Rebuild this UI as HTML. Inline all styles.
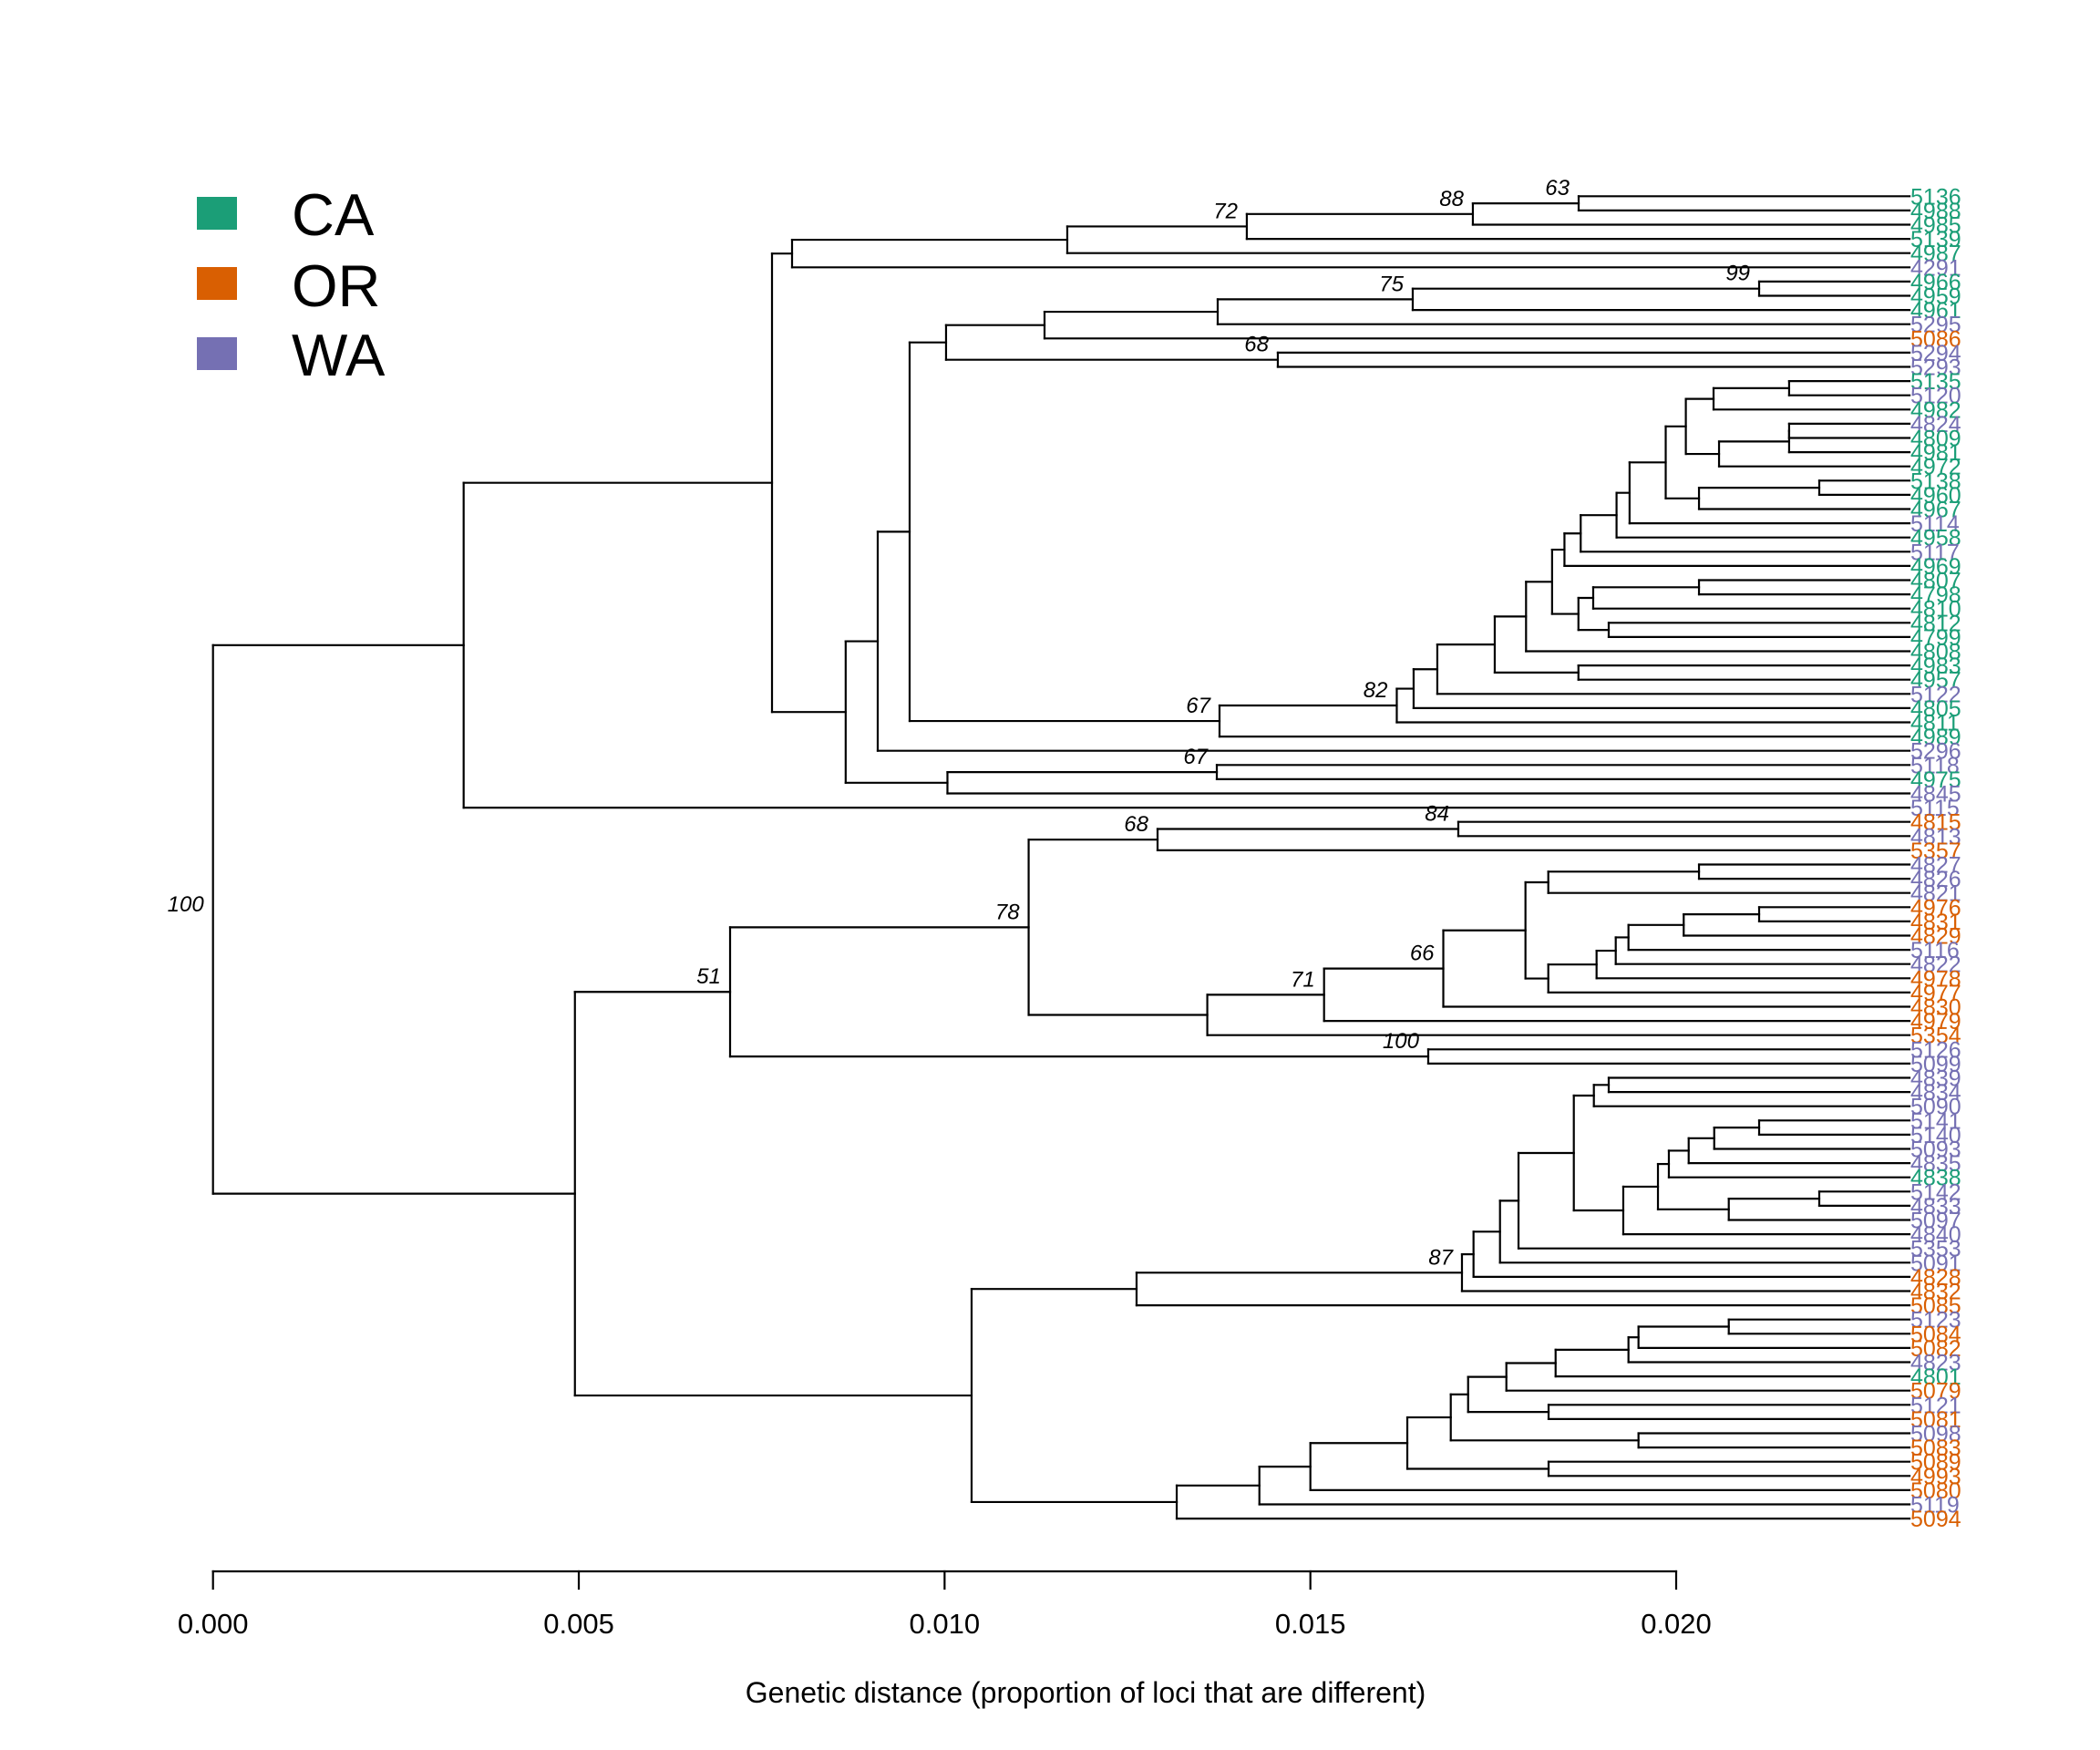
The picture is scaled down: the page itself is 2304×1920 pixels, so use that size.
<!DOCTYPE html>
<html>
<head>
<meta charset="utf-8">
<style>
html,body{margin:0;padding:0;background:#fff;}
svg{display:block;}
text{font-family:"Liberation Sans",Arial,sans-serif;}
</style>
</head>
<body>
<svg id="chart" xmlns="http://www.w3.org/2000/svg" width="2304" height="1920" viewBox="0 0 2304 1920">
  <rect width="2304" height="1920" fill="#fff"/>
  <g id="tree"></g>
  <g id="leaves"></g>
  <g id="boots"></g>
  <g id="axis"></g>
  <text x="1191" y="1868" font-size="32" text-anchor="middle">Genetic distance (proportion of loci that are different)</text>
  <g>
    <rect x="216" y="216" width="44" height="36" fill="#1B9E77"/>
    <text x="320" y="258" font-size="65">CA</text>
    <rect x="216" y="293" width="44" height="36" fill="#D95F02"/>
    <text x="320" y="336" font-size="65">OR</text>
    <rect x="216" y="370" width="44" height="36" fill="#7570B3"/>
    <text x="320" y="412" font-size="65">WA</text>
  </g>
</svg>
<script>
// ---- data ----
const leafNames = ["5136","4988","4985","5139","4987","4291","4966","4959","4961","5295","5086","5294","5293","5135","5120","4982","4824","4809","4981","4972","5138","4960","4967","5114","4958","5117","4969","4807","4798","4810","4812","4799","4808","4983","4957","5122","4805","4811","4989","5296","5118","4975","4845","5115","4815","4813","5357","4827","4826","4821","4976","4831","4829","5116","4822","4978","4977","4830","4979","5354","5126","5099","4839","4834","5090","5141","5140","5093","4835","4838","5142","4833","5097","4840","5353","5091","4828","4832","5085","5123","5084","5082","4823","4801","5079","5121","5081","5098","5083","5089","4993","5080","5119","5094"];
const leafRegions = "CCCCCWCCCWOWWCWCWCCCCCCWCWCCCCCCCCCWCCCWWCWWOWOWWWOOOWWOOOOOWWWWWWWWWCWWWWWWOOOWOOWCOWOWOOOOWO".split("");
const tipDistance = 0.02319;
const xTicks = [0.000, 0.005, 0.010, 0.015, 0.020];
const xTickLabels = ["0.000","0.005","0.010","0.015","0.020"];
// tree: [height, bootstrapLabel, children...]; leaves are indices into leafNames
const c63=[0.018667,'63',0,1], c88=[0.017221,'88',c63,2], c72=[0.014131,'72',c88,3];
const n1171=[0.011677,'',c72,4], A1a=[0.007915,'',n1171,5];
const c99=[0.021134,'99',6,7], c75=[0.016399,'75',c99,8], n1336=[0.013733,'',c75,9], n1146=[0.011366,'',n1336,10];
const c68a=[0.014555,'68',11,12], n1038=[0.010020,'',n1146,c68a];
const ta=[0.021544,'',13,14], tb=[0.020511,'',ta,15];
const tc=[0.021544,'',16,17], tc2=[0.021544,'',tc,18], td=[0.020586,'',tc2,19];
const te=[0.020132,'',tb,td];
const tf=[0.021956,'',20,21], tg=[0.020312,'',tf,22];
const th=[0.019857,'',te,tg], ti=[0.019363,'',th,23], tj=[0.019185,'',ti,24], tk=[0.018695,'',tj,25], tl=[0.018473,'',tk,26];
const tm=[0.020312,'',27,28], tn=[0.018866,'',tm,29], to=[0.019078,'',30,31], tp=[0.018664,'',tn,to];
const tq=[0.018304,'',tl,tp], tr=[0.017948,'',tq,32], ts=[0.018664,'',33,34], tt=[0.017520,'',tr,ts];
const tu=[0.016735,'',tt,35], tv=[0.016411,'',tu,36], c82=[0.016181,'82',tv,37], c67a=[0.013758,'67',c82,38];
const n679=[0.009522,'',n1038,c67a], n655=[0.009086,'',n679,39];
const c67b=[0.013721,'67',40,41], n707=[0.010039,'',c67b,42];
const A1b=[0.008648,'',n655,n707], A1=[0.007641,'',A1a,A1b], cA=[0.003426,'',A1,43];
const c84=[0.017022,'84',44,45], c68b=[0.012911,'68',c84,46];
const x1=[0.020312,'',47,48], x2=[0.018252,'',x1,49];
const y1=[0.021134,'',50,51], y2=[0.020103,'',y1,52], y3=[0.019348,'',y2,53], y4=[0.019174,'',y3,54], y5=[0.018912,'',y4,55], y6=[0.018252,'',y5,56];
const zz=[0.017940,'',x2,y6], c66=[0.016817,'66',zz,57], c71=[0.015187,'71',c66,58], ww=[0.013591,'',c71,59];
const c78=[0.011149,'78',c68b,ww], c100b=[0.016611,'100',60,61], c51=[0.007068,'51',c78,c100b];
const b1=[0.019078,'',62,63], b2=[0.018875,'',b1,64];
const b3=[0.021134,'',65,66], b4=[0.020520,'',b3,67], b5=[0.020171,'',b4,68], b6=[0.019900,'',b5,69];
const b7=[0.021956,'',70,71], b8=[0.020719,'',b7,72], b9=[0.019751,'',b6,b8], b10=[0.019277,'',b9,73];
const b11=[0.018601,'',b2,b10], b12=[0.017845,'',b11,74], b13=[0.017592,'',b12,75], b14=[0.017230,'',b13,76];
const c87=[0.017072,'87',b14,77], b15=[0.012624,'',c87,78];
const e1=[0.020719,'',79,80], e2=[0.019485,'',e1,81], e3=[0.019348,'',e2,82], e4=[0.018352,'',e3,83], e5=[0.017679,'',e4,84];
const e6=[0.018256,'',85,86], e7=[0.017156,'',e5,e6], e8=[0.019485,'',87,88], e9=[0.016919,'',e7,e8];
const e10=[0.018256,'',89,90], e11=[0.016325,'',e9,e10], e12=[0.015000,'',e11,91], e13=[0.014303,'',e12,92], e14=[0.013173,'',e13,93];
const cB2=[0.010369,'',b15,e14], cB=[0.004947,'',c51,cB2];
const treeRoot=[0,'100',cA,cB];

// ---- scales ----
const X0=233.7, PXU=80265;
function xScale(d){return X0 + d*PXU;}
const Y0=215.3, DY=15.6;
function yScale(i){return Y0 + i*DY;}
const regionColor={C:"#1B9E77",O:"#D95F02",W:"#7570B3"};
const NS="http://www.w3.org/2000/svg";
const gTree=document.getElementById('tree'), gLeaves=document.getElementById('leaves'), gBoots=document.getElementById('boots'), gAxis=document.getElementById('axis');

function mk(tag, attrs, parent){
  const el=document.createElementNS(NS,tag);
  for(const k in attrs) el.setAttribute(k,attrs[k]);
  parent.appendChild(el);
  return el;
}
function line(x1,y1,x2,y2,parent,name){
  const el=mk('line',{x1:x1,y1:y1,x2:x2,y2:y2,stroke:'#000','stroke-width':2.2,'stroke-linecap':'square'},parent);
  
  
  return el;
}
function layout(node){
  if(typeof node==='number') return {x:xScale(tipDistance), y:yScale(node)};
  const h=node[0], kids=node.slice(2).map(layout);
  const nx=xScale(h);
  const ys=kids.map(k=>k.y);
  const ny=(Math.min(...ys)+Math.max(...ys))/2;
  line(nx,Math.min(...ys),nx,Math.max(...ys),gTree,'node-connector');
  kids.forEach(k=>line(nx,k.y,k.x,k.y,gTree,'branch'));
  if(node[1]){
    const t=mk('text',{x:nx-10,y:ny-9,'font-size':24,'font-style':'italic','text-anchor':'end'},gBoots);
    t.textContent=node[1];
    
    
  }
  return {x:nx,y:ny};
}
layout(treeRoot);

leafNames.forEach((nm,i)=>{
  const t=mk('text',{x:xScale(tipDistance)+1,y:yScale(i)+9,'font-size':25,fill:regionColor[leafRegions[i]]},gLeaves);
  t.textContent=nm;
  
  
});

// axis
const AY=1724;
line(xScale(xTicks[0]),AY,xScale(xTicks[xTicks.length-1]),AY,gAxis,'axis-line');
xTicks.forEach((v,i)=>{
  const x=xScale(v);
  line(x,AY,x,1743,gAxis,'axis-tick');
  const t=mk('text',{x:x,y:1792,'font-size':31,'text-anchor':'middle'},gAxis);
  t.textContent=xTickLabels[i];
  
  
});
</script>
</body>
</html>
